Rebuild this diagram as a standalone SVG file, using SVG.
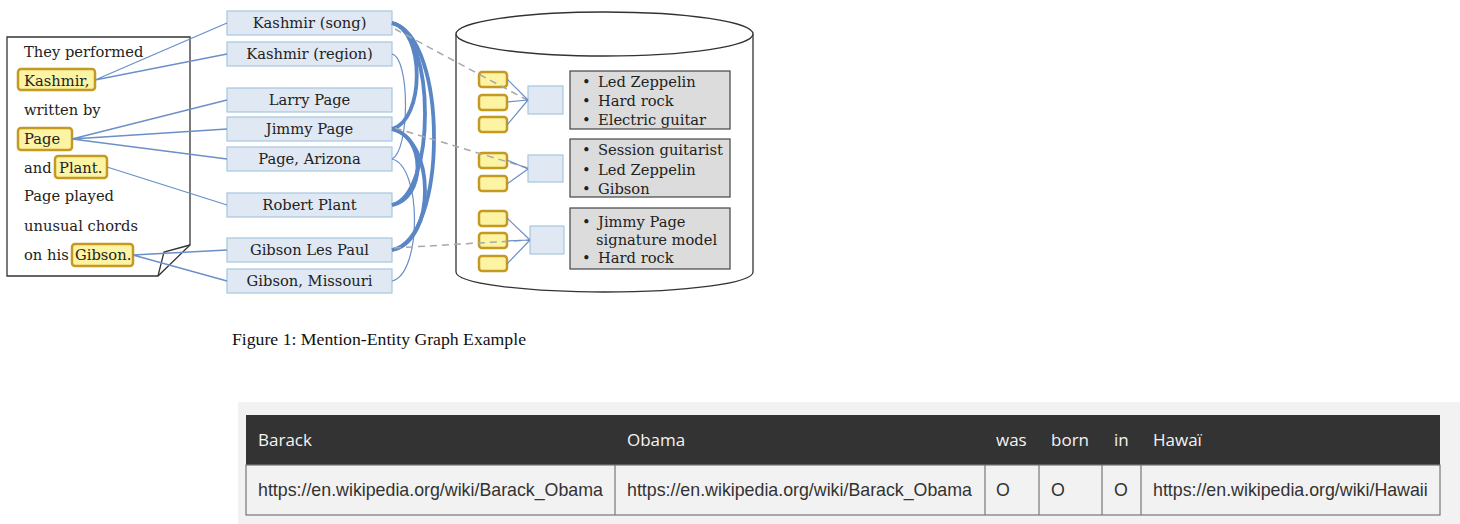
<svg xmlns="http://www.w3.org/2000/svg" width="1460" height="524" viewBox="0 0 1460 524">
<style>
.serif{font-family:"DejaVu Serif","Liberation Serif",serif;font-size:14.7px;fill:#222}
.ent rect{fill:#dfe8f3;stroke:#a6c6de;stroke-width:1.2}
.ent text{text-anchor:middle}
.hl{fill:#fcf3a3;stroke:#c49a22;stroke-width:2.5}
.mline{stroke:#6b8fc8;stroke-width:1.3;fill:none}
.thick{stroke:#5b86c6;stroke-width:3.8;fill:none}
.thin{stroke:#6b8fc8;stroke-width:1.2;fill:none}
.dash{stroke:#a8a8a8;stroke-width:1.5;stroke-dasharray:7 5;fill:none}
.ysm{fill:#fcf3a3;stroke:#c49a22;stroke-width:2.5}
.bsq{fill:#dfe8f3;stroke:#a6c6de;stroke-width:1.2}
.info{fill:#dcdcdc;stroke:#444;stroke-width:1.2}
.hdr{font-family:"Open Sans","DejaVu Sans",sans-serif;font-size:17px;fill:#f4f4f4}
.cell{font-family:"Liberation Sans",Arial,sans-serif;font-size:17.8px;fill:#333}
</style>

<g id="document">
  <path d="M7,37 H190 V245 L158,276 H7 Z" fill="#fff" stroke="#333" stroke-width="1.3"/>
  <path d="M190,245 L164,252 L158,276" fill="none" stroke="#333" stroke-width="1.3"/>
  <rect class="hl" x="18" y="69" width="77" height="21" rx="3"/>
  <rect class="hl" x="18" y="128" width="54" height="22" rx="3"/>
  <rect class="hl" x="55" y="156" width="52" height="22" rx="3"/>
  <rect class="hl" x="72" y="244" width="61" height="22" rx="3"/>
  <text class="serif" x="24" y="57">They performed</text>
  <text class="serif" x="24" y="86">Kashmir,</text>
  <text class="serif" x="24" y="115">written by</text>
  <text class="serif" x="24" y="144">Page</text>
  <text class="serif" x="24" y="173">and</text>
  <text class="serif" x="59" y="173">Plant.</text>
  <text class="serif" x="24" y="201">Page played</text>
  <text class="serif" x="24" y="231">unusual chords</text>
  <text class="serif" x="24" y="260">on his</text>
  <text class="serif" x="75" y="260">Gibson.</text>
</g>

<g id="entity-kashmir-song" class="ent"><rect x="227" y="11" width="165" height="24"/><text class="serif" x="309.5" y="28">Kashmir (song)</text></g>
<g id="entity-kashmir-region" class="ent"><rect x="227" y="42" width="165" height="24"/><text class="serif" x="309.5" y="59">Kashmir (region)</text></g>
<g id="entity-larry-page" class="ent"><rect x="227" y="88" width="165" height="24"/><text class="serif" x="309.5" y="105">Larry Page</text></g>
<g id="entity-jimmy-page" class="ent"><rect x="227" y="117" width="165" height="24"/><text class="serif" x="309.5" y="134">Jimmy Page</text></g>
<g id="entity-page-arizona" class="ent"><rect x="227" y="147" width="165" height="24"/><text class="serif" x="309.5" y="164">Page, Arizona</text></g>
<g id="entity-robert-plant" class="ent"><rect x="227" y="193" width="165" height="24"/><text class="serif" x="309.5" y="210">Robert Plant</text></g>
<g id="entity-gibson-les-paul" class="ent"><rect x="227" y="238" width="165" height="24"/><text class="serif" x="309.5" y="255">Gibson Les Paul</text></g>
<g id="entity-gibson-missouri" class="ent"><rect x="227" y="269" width="165" height="24"/><text class="serif" x="309.5" y="286">Gibson, Missouri</text></g>

<g id="knowledge-base">
  <path d="M456,34 V272 A148.5,20 0 0 0 753,272 V34" fill="#fff" stroke="#333" stroke-width="1.3"/>
  <ellipse cx="604.5" cy="34" rx="148.5" ry="22" fill="#fff" stroke="#333" stroke-width="1.3"/>
</g>

<g id="kb-entry-1">
  <rect class="ysm" x="479" y="72" width="28" height="15" rx="3"/>
  <rect class="ysm" x="479" y="95" width="28" height="15" rx="3"/>
  <rect class="ysm" x="479" y="117" width="28" height="15" rx="3"/>
  <rect class="bsq" x="528" y="86" width="35" height="28"/>
  <rect class="info" x="570" y="71" width="160" height="58"/>
  <text class="serif" x="582" y="87">•</text><text class="serif" x="598" y="87">Led Zeppelin</text>
  <text class="serif" x="582" y="106">•</text><text class="serif" x="598" y="106">Hard rock</text>
  <text class="serif" x="582" y="125">•</text><text class="serif" x="598" y="125">Electric guitar</text>
</g>
<g id="kb-entry-2">
  <rect class="ysm" x="479" y="153" width="28" height="15" rx="3"/>
  <rect class="ysm" x="479" y="176" width="28" height="15" rx="3"/>
  <rect class="bsq" x="528" y="155" width="35" height="27"/>
  <rect class="info" x="570" y="139" width="160" height="58"/>
  <text class="serif" x="582" y="155">•</text><text class="serif" x="598" y="155">Session guitarist</text>
  <text class="serif" x="582" y="175">•</text><text class="serif" x="598" y="175">Led Zeppelin</text>
  <text class="serif" x="582" y="194">•</text><text class="serif" x="598" y="194">Gibson</text>
</g>
<g id="kb-entry-3">
  <rect class="ysm" x="479" y="211" width="28" height="15" rx="3"/>
  <rect class="ysm" x="479" y="233" width="28" height="15" rx="3"/>
  <rect class="ysm" x="479" y="256" width="28" height="15" rx="3"/>
  <rect class="bsq" x="530" y="226" width="34" height="28"/>
  <rect class="info" x="570" y="208" width="160" height="61"/>
  <text class="serif" x="582" y="227">•</text><text class="serif" x="598" y="227">Jimmy Page</text>
  <text class="serif" x="596" y="245">signature model</text>
  <text class="serif" x="582" y="263">•</text><text class="serif" x="598" y="263">Hard rock</text>
</g>

<g id="connectors">
  <path class="mline" d="M95,80 L227,23 M95,80 L227,54"/>
  <path class="mline" d="M72,139 L227,100 M72,139 L227,129 M72,139 L227,159"/>
  <path class="mline" d="M107,167 L227,205"/>
  <path class="mline" d="M133,255 L227,250 M133,255 L227,281"/>
  <path class="thin" d="M392,54 C410,58 410,150 392,159"/>
  <path class="thin" d="M392,159 C422,166 422,274 392,281"/>
  <path class="thick" d="M392,23 C425,30 425,120 392,129"/>
  <path class="thick" d="M392,23 C436,32 436,195 392,205"/>
  <path class="thick" d="M392,23 C448,36 448,240 392,250"/>
  <path class="thick" d="M392,129 C426,136 426,198 392,205"/>
  <path class="thick" d="M392,129 C436,140 436,242 392,250"/>
  <path class="dash" d="M395,29 L527,100"/>
  <path class="dash" d="M395,128 L528,168"/>
  <path class="dash" d="M394,248 L530,240"/>
  <path class="thin" d="M507,79 L528,100 M507,102 L528,100 M507,125 L528,100"/>
  <path class="thin" d="M507,160 L528,169 M507,184 L528,169"/>
  <path class="thin" d="M507,218 L530,240 M507,241 L530,240 M507,264 L530,240"/>
</g>

<g id="caption">
  <text x="232" y="345" font-family="Liberation Serif,Times New Roman,serif" font-size="16.5" fill="#111" textLength="294" lengthAdjust="spacingAndGlyphs">Figure 1: Mention-Entity Graph Example</text>
</g>

<g id="table">
  <rect x="238" y="402" width="1222" height="122" fill="#f2f2f2"/>
  <rect x="246" y="415" width="1194" height="50" fill="#333"/>
  <rect x="246" y="465" width="1194" height="50" fill="#f2f2f2" stroke="#777" stroke-width="1.2"/>
  <path d="M615,465 V515 M985,465 V515 M1039,465 V515 M1102,465 V515 M1141,465 V515" stroke="#777" stroke-width="1.2"/>
  <text class="hdr" x="258" y="446">Barack</text>
  <text class="hdr" x="627" y="446">Obama</text>
  <text class="hdr" x="996" y="446">was</text>
  <text class="hdr" x="1051" y="446">born</text>
  <text class="hdr" x="1114" y="446">in</text>
  <text class="hdr" x="1153" y="446">Hawaï</text>
  <text class="cell" x="258" y="496">https://en.wikipedia.org/wiki/Barack_Obama</text>
  <text class="cell" x="627" y="496">https://en.wikipedia.org/wiki/Barack_Obama</text>
  <text class="cell" x="996" y="496">O</text>
  <text class="cell" x="1051" y="496">O</text>
  <text class="cell" x="1114" y="496">O</text>
  <text class="cell" x="1153" y="496">https://en.wikipedia.org/wiki/Hawaii</text>
</g>
</svg>
